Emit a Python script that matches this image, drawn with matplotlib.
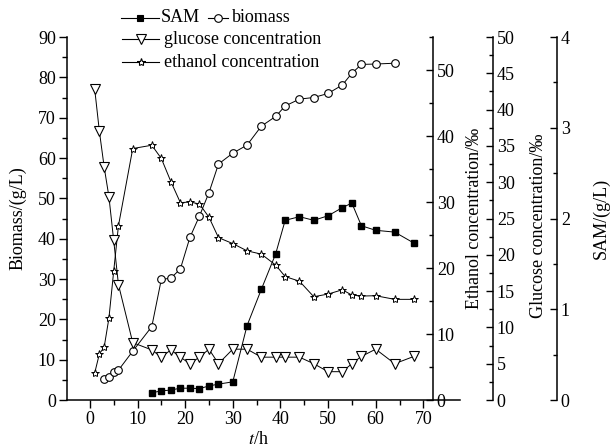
import matplotlib
matplotlib.use("Agg")
import matplotlib.pyplot as plt
from matplotlib.ticker import MultipleLocator, FixedLocator
from matplotlib.lines import Line2D

plt.rcParams['font.family'] = ['Liberation Serif', 'DejaVu Serif']
plt.rcParams['mathtext.fontset'] = 'stix'

# ---- data ----
biomass_t = [3, 4, 5, 6, 9, 13, 15, 17, 19, 21, 23, 25, 27, 30, 33, 36, 39, 41, 44, 47, 50, 53, 55, 57, 60, 64]
biomass = [5.1, 5.8, 6.9, 7.4, 12.1, 18.2, 29.9, 30.2, 32.5, 40.3, 45.6, 51.4, 58.5, 61.2, 63.2, 67.9,
           70.3, 72.9, 74.6, 75.0, 76.0, 78.1, 81.0, 83.2, 83.3, 83.5]

glucose_t = [1, 2, 3, 4, 5, 6, 9, 13, 15, 17, 19, 21, 23, 25, 27, 30, 33, 36, 39, 41, 44, 47, 50, 53, 55, 57, 60, 64, 68]
glucose = [42.9, 37.0, 32.1, 28.0, 22.0, 15.9, 7.9, 6.9, 5.9, 6.9, 5.9, 5.0, 5.9, 7.0, 5.0, 7.0, 7.0,
           5.9, 5.9, 5.9, 5.9, 5.0, 3.9, 3.9, 5.0, 6.0, 7.0, 5.0, 6.0]

ethanol_t = [1, 2, 3, 4, 5, 6, 9, 13, 15, 17, 19, 21, 23, 25, 27, 30, 33, 36, 39, 41, 44, 47, 50, 53, 55, 57, 60, 64, 68]
ethanol = [4.05, 7.0, 8.0, 12.4, 19.5, 26.4, 38.1, 38.6, 36.6, 33.1, 29.9, 30.0, 29.7, 27.7, 24.6, 23.7,
           22.6, 22.1, 20.45, 18.7, 18.0, 15.65, 16.05, 16.7, 15.9, 15.75, 15.8, 15.25, 15.25]

sam_t = [13, 15, 17, 19, 21, 23, 25, 27, 30, 33, 36, 39, 41, 44, 47, 50, 53, 55, 57, 60, 64, 68]
sam = [0.08, 0.10, 0.11, 0.13, 0.13, 0.125, 0.155, 0.175, 0.20, 0.82, 1.22, 1.61, 1.98, 2.02, 1.98,
       2.03, 2.12, 2.17, 1.92, 1.87, 1.85, 1.73]

x_ticks = [0, 10, 20, 30, 40, 50, 60, 70]

# ---- figure ----
W, H = 615, 448
fig = plt.figure(figsize=(W / 100, H / 100), dpi=100)
L, R, B, T = 67, 460, 400, 37
ax = fig.add_axes([L / W, 1 - B / H, (R - L) / W, (B - T) / H])

FS = 13
lw_sp = 1.1
line_kw = dict(color='black', lw=0.7)

ax.set_xlim(-4.8, 77.7)
ax.set_ylim(0, 90)
for s in ['top', 'right']:
    ax.spines[s].set_visible(False)
for s in ['left', 'bottom']:
    ax.spines[s].set_linewidth(lw_sp)
ax.xaxis.set_major_locator(FixedLocator(x_ticks))
ax.xaxis.set_minor_locator(FixedLocator([5, 15, 25, 35, 45, 55, 65]))
ax.yaxis.set_major_locator(MultipleLocator(10))
ax.yaxis.set_minor_locator(MultipleLocator(5))
ax.tick_params(which='major', direction='out', length=6, width=1, labelsize=FS, pad=2)
ax.tick_params(which='minor', direction='out', length=3.5, width=1)
ax.set_ylabel('Biomass/(g/L)', fontsize=FS)
ax.yaxis.set_label_coords((27 - L) / (R - L), 0.5)
ax.set_xlabel(r'$\it{t}$/h', fontsize=FS)
ax.xaxis.set_label_coords(0.486, -0.085)

# twin axes
def make_twin(pos, ylim, major, minor, label, labelx, labely):
    a = ax.twinx()
    a.set_ylim(*ylim)
    for s in ['top', 'left', 'bottom']:
        a.spines[s].set_visible(False)
    a.spines['right'].set_position(('axes', pos))
    a.spines['right'].set_linewidth(lw_sp)
    a.yaxis.set_major_locator(MultipleLocator(major))
    a.yaxis.set_minor_locator(MultipleLocator(minor))
    a.tick_params(which='major', direction='in', length=5, width=1, labelsize=FS, pad=3)
    a.tick_params(which='minor', direction='in', length=3, width=1)
    a.set_ylabel(label, fontsize=FS)
    a.yaxis.set_label_coords(labelx, labely)
    return a

ax_e = make_twin((432.7 - L) / (R - L), (0, 55), 10, 5, 'Ethanol concentration/‰',
                 (466 - L) / (R - L), 0.5)
ax_g = make_twin((492.7 - L) / (R - L), (0, 50), 5, 2.5, 'Glucose concentration/‰',
                 (530 - L) / (R - L), 0.48)
ax_s = make_twin((556.7 - L) / (R - L), (0, 4), 1, 0.5, 'SAM/(g/L)',
                 (592 - L) / (R - L), 0.5)

ms_sq, ms_c, ms_tri, ms_star = 5, 5.5, 6.5, 6
ax.plot(biomass_t, biomass, marker='o', mfc='white', mec='black', ms=ms_c, mew=0.8, **line_kw)
ax_g.plot(glucose_t, glucose, marker='v', mfc='white', mec='black', ms=ms_tri, mew=0.8, **line_kw)
ax_e.plot(ethanol_t, ethanol, marker='*', mfc='white', mec='black', ms=ms_star, mew=0.7, **line_kw)
ax_s.plot(sam_t, sam, marker='s', mfc='black', mec='black', ms=ms_sq, **line_kw)

for a in (ax_e, ax_g, ax_s):
    a.set_xlim(ax.get_xlim())

# ---- legend (drawn manually) ----
def leg_entry(x0, x1, y, marker, mfc, ms, text, tx):
    fx0, fx1, fy = x0 / W, x1 / W, 1 - y / H
    fig.add_artist(Line2D([fx0, fx1], [fy, fy], transform=fig.transFigure, color='black', lw=0.8))
    fig.add_artist(Line2D([(fx0 + fx1) / 2], [fy], transform=fig.transFigure, marker=marker,
                          mfc=mfc, mec='black', ms=ms, mew=0.8, ls='none'))
    fig.text(tx / W, fy, text, fontsize=FS, va='center', ha='left')

leg_entry(121, 159, 18, 's', 'black', ms_sq, 'SAM', 161)
leg_entry(208, 228, 18, 'o', 'white', ms_c, 'biomass', 232)
leg_entry(122, 159, 39, 'v', 'white', ms_tri, 'glucose concentration', 164)
leg_entry(122, 159, 62, '*', 'white', ms_star, 'ethanol concentration', 164)

fig.savefig('out.png', dpi=100)
